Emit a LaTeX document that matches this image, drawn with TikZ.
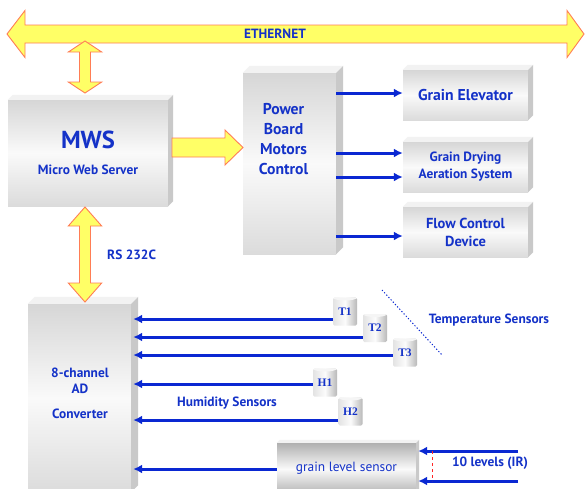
\documentclass[tikz,border=0pt]{standalone}
\usepackage{fontspec}
\setmainfont{PT Sans}
\newfontfamily\tagfont{Liberation Serif}
\usepackage{tikz}
\usetikzlibrary{arrows.meta,calc,positioning}
\definecolor{ink}{RGB}{20,50,200}
\definecolor{wire}{RGB}{10,40,210}
\definecolor{fatfill}{RGB}{255,255,102}
\definecolor{fatedge}{RGB}{255,125,85}
\newcommand{\slabfaces}[2]{%
  \fill[gray!10] (#1.north west) -- ++(#2,-#2) -- ([shift={(#2,-#2)}]#1.north east) -- (#1.north east) -- cycle;
  \fill[gray!42] (#1.north east) -- ([shift={(#2,-#2)}]#1.north east) -- ([shift={(#2,-#2)}]#1.south east) -- (#1.south east) -- cycle;}
\newcommand{\vfat}[3]{%
  \draw[fat] (#1) -- ++(16.7,#3) -- ++(-11.2,0) -- ($(#2)+(5.5,-#3)$) -- ++(11.2,0) -- (#2)
    -- ++(-16.7,-#3) -- ++(11.2,0) -- ($(#1)+(-5.5,#3)$) -- ++(-11.2,0) -- cycle;}
\tikzset{
  slab/.style={inner sep=0pt, top color=gray!32, bottom color=gray!28, middle color=gray!4,
    text=ink, align=center, font=\bfseries\fontsize{13.4}{15}\selectfont},
  metal/.style={inner sep=0pt, top color=gray!62, bottom color=gray!62, middle color=gray!4,
    text=ink, font=\fontsize{13.4}{15}\selectfont},
  sensor/.style={minimum width=24pt, minimum height=28pt, inner sep=0pt, rounded corners=1.5pt,
    left color=gray!22, right color=gray!55, middle color=gray!3, text=ink,
    font=\tagfont\bfseries\fontsize{11.5}{12}\selectfont,
    path picture={\fill[gray!8] (path picture bounding box.north) ellipse [x radius=12pt, y radius=3pt];}},
  lbl/.style={text=ink, inner sep=0pt, font=\bfseries\fontsize{13.4}{15}\selectfont},
  sig/.style={wire, line width=3pt, -{Latex[length=9pt,width=9pt]}},
  fat/.style={fill=fatfill, draw=fatedge, line width=0.9pt}
}
\begin{document}
\begin{tikzpicture}[x=1pt,y=-1pt]
  \useasboundingbox[fill=white] (0,0) rectangle (585,488);
  % boxes
  \node[slab, minimum width=160pt, minimum height=106pt] (mws) at (88,153)
    {{\fontsize{24.6}{26}\selectfont MWS}\\[11pt]Micro Web Server};
  \slabfaces{mws}{5}
  \node[slab, minimum width=93pt, minimum height=181pt] (pb) at (289.5,163.5) {};
  \slabfaces{pb}{7}
  \node[lbl, align=center, font=\bfseries\fontsize{15.7}{20}\selectfont] (pbtext)
    at ([shift={(-6,-24.5)}]pb.center) {Power\\Board\\Motors\\Control};
  \node[slab, minimum width=125pt, minimum height=50pt, font=\bfseries\fontsize{15.7}{17}\selectfont] (ge)
    at (465.5,95) {Grain Elevator};
  \slabfaces{ge}{5}
  \node[slab, minimum width=125pt, minimum height=50pt, font=\bfseries\fontsize{13.4}{17}\selectfont] (gd)
    at (465.5,167) {Grain Drying\\Aeration System};
  \slabfaces{gd}{5}
  \node[slab, minimum width=125pt, minimum height=50pt, font=\bfseries\fontsize{14.5}{18}\selectfont] (fc)
    at (465.5,232) {Flow Control\\Device};
  \slabfaces{fc}{5}
  \node[slab, minimum width=103pt, minimum height=188pt] (ad) at (79.5,398) {};
  \slabfaces{ad}{7}
  \node[lbl, align=center, font=\bfseries\fontsize{13.4}{16}\selectfont] (adtext)
    at ([shift={(0.5,-4.5)}]ad.center) {8-channel\\AD\\[9pt]Converter};
  \node[metal, minimum width=139pt, minimum height=52pt] (gls) at (346.5,469)
    {\raisebox{5pt}{grain level sensor}};
  \slabfaces{gls}{3}
  % yellow arrows
  \draw[fat] (7,34) -- (25,10.5) -- (25,25) -- (567,25) -- (567,10.5) -- (584,34)
    -- (567,57.5) -- (567,43) -- (25,43) -- (25,57.5) -- cycle;
  \node[lbl] (eth) at (275,34) {ETHERNET};
  \coordinate (ethtap) at (85,41);
  \coordinate (mwstop) at (85,93);
  \coordinate (mwsbot) at (85,207);
  \coordinate (adtop) at (85,302);
  \vfat{ethtap}{mwstop}{11}
  \vfat{mwsbot}{adtop}{19}
  \node[lbl, anchor=west] (rs) at (107,255) {RS 232C};
  \draw[fat] (172,138) -- (225,138) -- (225,130) -- (243,147.5) -- (225,165) -- (225,157) -- (172,157) -- cycle;
  % power board outputs
  \draw[sig] ([yshift=2pt]pb.east |- ge.west) -- ([yshift=2pt]ge.west);
  \draw[sig] ([yshift=14pt]pb.east |- gd.west) -- ([yshift=14pt]gd.west);
  \draw[sig] ([yshift=-10pt]pb.east |- gd.west) -- ([yshift=-10pt]gd.west);
  \draw[sig] ([yshift=-4pt]pb.east |- fc.west) -- ([yshift=-4pt]fc.west);
  % sensors
  \node[sensor] (t1) at (345,311.5) {T1};
  \node[sensor] (t2) at (375,328) {T2};
  \node[sensor] (t3) at (405,352.5) {T3};
  \node[sensor] (h1) at (325,382.5) {H1};
  \node[sensor] (h2) at (350.5,411.5) {H2};
  \foreach \s/\dy in {t1/-7.5,t2/-9,t3/-2.5,h1/-1.5,h2/-8.5}
    \draw[sig] ([yshift=\dy pt]\s.west) -- ([xshift=2pt,yshift=\dy pt]\s.west -| ad.east);
  \draw[wire, dash pattern=on 1.2pt off 2pt, line width=1pt] (382,290) -- (442,355);
  \node[lbl] (temp) at (489,320) {Temperature Sensors};
  \node[lbl] (hum) at (227,403) {Humidity Sensors};
  % level sensor
  \draw[sig] (gls.west) -- ([xshift=2pt]gls.west -| ad.east);
  \coordinate (ir1) at (518,451);
  \coordinate (ir2) at (518,481);
  \draw[sig] (ir1) -- ([xshift=2pt]ir1 -| gls.east);
  \draw[sig] (ir2) -- ([xshift=2pt]ir2 -| gls.east);
  \draw[red!85, dashed, thin] ([xshift=16pt]ir1 -| gls.east) -- ([xshift=16pt]ir2 -| gls.east);
  \node[lbl] (ir) at (490,463) {10 levels (IR)};
\end{tikzpicture}
\end{document}
